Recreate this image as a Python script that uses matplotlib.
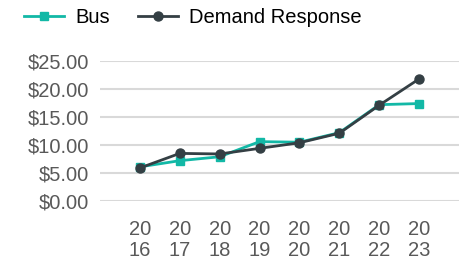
import matplotlib.pyplot as plt

plt.rcParams['font.family'] = ['Liberation Sans', 'DejaVu Sans']

# data
years = ['2016', '2017', '2018', '2019', '2020', '2021', '2022', '2023']
bus = [6.1, 7.2, 7.9, 10.6, 10.5, 12.2, 17.2, 17.4]
demand_response = [5.9, 8.5, 8.4, 9.4, 10.4, 12.1, 17.1, 21.8]
y_ticks = [0, 5, 10, 15, 20, 25]

teal = '#12B8A6'
dark = '#343F44'
gray = '#595959'

fig = plt.figure(figsize=(4.59, 2.63), dpi=100)
ax = fig.add_axes([100 / 459, 62 / 263, 359 / 459, 140 / 263])

x = range(len(years))
ax.plot(x, bus, color=teal, lw=2, marker='s', ms=6, label='Bus', clip_on=False)
ax.plot(x, demand_response, color=dark, lw=2, marker='o', ms=6.5,
        label='Demand Response', clip_on=False)

ax.set_xlim(-1, 8)
ax.set_ylim(0, 25)
ax.set_yticks(y_ticks)
ax.set_yticklabels([f'${v:.2f}' for v in y_ticks])
ax.set_xticks(list(x))
ax.set_xticklabels([y[:2] + '\n' + y[2:] for y in years], linespacing=1.1)
ax.tick_params(axis='both', length=0, labelsize=14.5, labelcolor=gray)
ax.tick_params(axis='y', pad=8)
ax.tick_params(axis='x', pad=14)

ax.grid(axis='y', color='#D9D9D9', lw=1.5)
ax.set_axisbelow(True)
for s in ax.spines.values():
    s.set_visible(False)

fig.legend(loc='upper left', bbox_to_anchor=(0.012, 1.04), ncol=2, frameon=False,
           fontsize=14.5, handlelength=2.0, columnspacing=1.4, handletextpad=0.55)

fig.savefig('out.png', dpi=100)
